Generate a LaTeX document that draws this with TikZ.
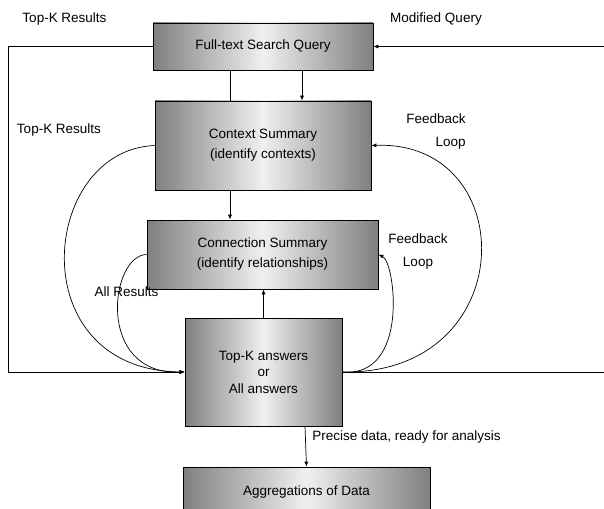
\documentclass[tikz,border=0pt]{standalone}
\usepackage{fontspec}
\setmainfont{Liberation Sans}
\usetikzlibrary{arrows.meta}
\tikzset{
  stage/.style={draw, left color=gray, right color=gray, middle color=gray!12,
    inner sep=0pt, align=center, font=\fontsize{13.5}{16.5}\selectfont},
  lbl/.style={inner sep=0pt, font=\fontsize{13.5}{16.5}\selectfont},
  arr/.style={-{Latex[length=5pt,width=4pt]}}
}
\begin{document}
\begin{tikzpicture}[x=1pt,y=-1pt,line width=0.7pt]
      \useasboundingbox (0,0) rectangle (604,508);
      \clip (0,0) rectangle (604,508);
      % boxes
      \node[stage, minimum width=220pt, minimum height=47pt] (fts) at (263,46.5) {Full-text Search Query};
      \node[stage, minimum width=216pt, minimum height=89pt] (ctx) at (263,145.5) {Context Summary\\[3.5pt](identify contexts)};
      \node[stage, minimum width=231pt, minimum height=69pt] (con) at (262.5,254.5) {Connection Summary\\[3.5pt](identify relationships)};
      \node[stage, minimum width=157pt, minimum height=108pt] (top) at (263.5,372) {Top-K answers\\or\\All answers};
      \node[stage, minimum width=247pt, minimum height=50pt] (agg) at (306.5,492) {Aggregations of Data};
      % labels
      \node[lbl] (l1) at (64.5,19) {Top-K Results};
      \node[lbl] (l2) at (436,19) {Modified Query};
      \node[lbl] (l3) at (59,130) {Top-K Results};
      \node[lbl, align=right, anchor=east] (l4) at (466,132) {Feedback\\[6.5pt]Loop};
      \node[lbl, align=center] (l5) at (418,252) {Feedback\\[6.5pt]Loop};
      \node[lbl] (l6) at (126.5,292) {All Results};
      \node[lbl, anchor=west] (l7) at (312,437) {Precise data, ready for analysis};
      \coordinate (1) at (8,46.5);
      \coordinate (2) at (8,372);
      \coordinate (3) at (604,46.5);
      \coordinate (4) at (604,372);
      % straight connectors
      \draw[arr] (fts.west) -- (1) -- (2) -- (top.west);
      \draw[arr] (3) -- (fts.east);
      \draw (top.east) -- (4);
      \draw ([xshift=-33pt]fts.south) -- ([xshift=-33pt]fts.south |- ctx.north);
      \draw[arr] ([xshift=39pt]fts.south) -- ([xshift=39pt]fts.south |- ctx.north);
      \draw[arr] ([xshift=-33pt]ctx.south) -- ([xshift=-33pt]ctx.south |- con.north);
      \draw[arr] (top.north) -- (top.north |- con.south);
      \draw[arr] ([xshift=41.5pt]top.south) -- (agg.north);
      % loops
      \draw[arr] (ctx.west) .. controls (40,150) and (20,370) .. (top.west);
      \draw[arr] (con.west) .. controls (110,255) and (95,375) .. (top.west);
      \draw[arr] (top.east) .. controls (522,375) and (522,140) .. (ctx.east);
      \draw[arr] (top.east) .. controls (410,378) and (395,262) .. (con.east);
    \end{tikzpicture}
\end{document}
